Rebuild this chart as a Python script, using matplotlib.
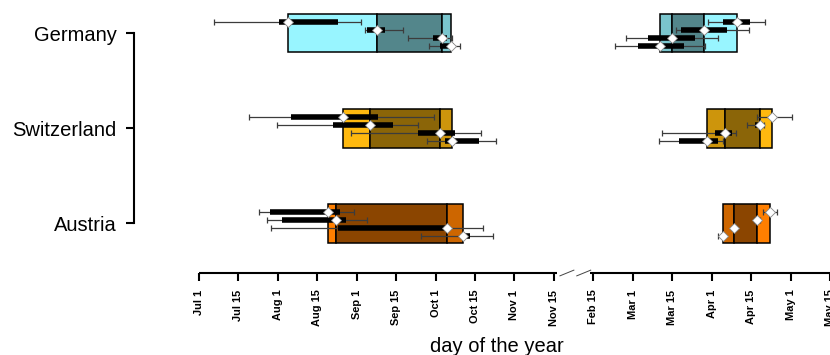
import matplotlib.pyplot as plt
import numpy as np

plt.rcParams['font.family'] = ['Liberation Sans', 'DejaVu Sans']

# x values are days on the compressed axis (0 = Jul 1, 15 days per tick,
# the gap Nov 15 -> Feb 15 is squeezed into one tick)
tick_labels = ["Jul 1", "Jul 15", "Aug 1", "Aug 15", "Sep 1", "Sep 15", "Oct 1",
               "Oct 15", "Nov 1", "Nov 15", "Feb 15", "Mar 1", "Mar 15",
               "Apr 1", "Apr 15", "May 1", "May 15"]
countries = ["Austria", "Switzerland", "Germany"]

# each row: low whisker, low quartile, median, high quartile, high whisker
germany_autumn = [[5.9, 30.3, 34.0, 52.9, 61.7],
                  [63.0, 64.0, 67.8, 70.8, 77.8],
                  [79.7, 89.2, 92.6, 94.5, 96.4],
                  [87.6, 91.6, 95.8, 97.1, 99.3]]
germany_spring = [[193.5, 199.2, 204.5, 209.6, 215.3],
                  [181.5, 183.4, 192.0, 200.7, 209.2],
                  [162.3, 170.8, 180.0, 188.8, 197.4],
                  [158.2, 166.8, 175.5, 184.3, 192.6]]
swiss_autumn = [[18.9, 34.9, 54.8, 68.1, 89.5],
                [29.6, 51.0, 64.9, 74.0, 83.2],
                [58.0, 83.5, 91.6, 97.4, 107.1],
                [86.6, 93.5, 96.4, 106.7, 112.8]]
swiss_spring = [[212.4, 217.4, 218.1, 218.6, 225.6],
                [208.3, 211.4, 213.3, 214.4, 214.9],
                [176.1, 196.4, 200.1, 202.7, 204.2],
                [175.0, 182.5, 193.2, 197.3, 199.4]]
austria_autumn = [[23.0, 27.1, 49.2, 53.6, 58.9],
                  [25.8, 31.5, 52.1, 56.1, 63.9],
                  [27.5, 52.9, 94.3, 94.5, 108.1],
                  [84.4, 100.2, 100.5, 103.1, 111.9]]
austria_spring = [[214.5, 216.3, 217.2, 217.8, 220.0],
                  [211.0, 211.4, 212.1, 212.9, 213.3],
                  [202.7, 203.1, 203.6, 204.0, 204.4],
                  [197.5, 198.4, 199.2, 199.7, 199.8]]

# light, medium, dark
germany_colors = ["#98F5FF", "#7AC5CD", "#53868B"]
swiss_colors = ["#FFB90F", "#CD950C", "#8B6508"]
austria_colors = ["#FF7F00", "#CD6600", "#8B4500"]

# which shade goes into each of the three box segments
autumn_order = [0, 2, 1]
spring_order = [1, 2, 0]

fig = plt.figure(figsize=(8.3, 3.55), dpi=100)
ax = fig.add_axes([0, 82 / 355, 1, 273 / 355])
ax.set_xlim(-75.63, 238.2)
ax.set_ylim(0.478, 3.347)

row_offsets = [0.121, 0.035, -0.05, -0.137]
box_height = 0.408


def draw_group(rows, ypos, colors, order):
    meds = sorted(r[2] for r in rows)
    # box built from the medians, split in three shaded parts
    for k in range(3):
        ax.barh(ypos, meds[k + 1] - meds[k], left=meds[k], height=box_height,
                color=colors[order[k]], edgecolor="black", linewidth=1.1, zorder=2)
    for r, dy in zip(rows, row_offsets):
        lo, q1, med, q3, hi = r
        y = ypos + dy
        ax.errorbar(med, y, xerr=[[med - lo], [hi - med]], fmt="none",
                    ecolor="#3c3c3c", elinewidth=0.9, capsize=2.0, capthick=0.9, zorder=3)
        ax.hlines(y, q1, q3, colors="black", linewidth=4.0, zorder=4)
        ax.plot(med, y, "D", ms=5.0, mfc="white", mec="#888888", mew=0.6, zorder=5)


draw_group(austria_autumn, 1, austria_colors, autumn_order)
draw_group(austria_spring, 1, austria_colors, spring_order)
draw_group(swiss_autumn, 2, swiss_colors, autumn_order)
draw_group(swiss_spring, 2, swiss_colors, spring_order)
draw_group(germany_autumn, 3, germany_colors, autumn_order)
draw_group(germany_spring, 3, germany_colors, spring_order)

# y axis as a bracket
for s in ["top", "right", "bottom"]:
    ax.spines[s].set_visible(False)
ax.spines["left"].set_position(("data", -24.6))
ax.spines["left"].set_bounds(1, 3)
ax.spines["left"].set_linewidth(1.5)
ax.set_yticks([1, 2, 3])
ax.set_yticklabels(countries)
ax.tick_params(axis="y", direction="out", length=6, width=1.5, pad=6.5, labelsize=14.5)

# broken x axis
xt = np.arange(len(tick_labels)) * 15
ax.set_xticks(xt)
ax.set_xticklabels(tick_labels, rotation=90, fontweight="bold")
ax.tick_params(axis="x", direction="out", length=5.5, width=1.5, pad=6.5, labelsize=7.9)
ybot = 0.478
ax.plot([0, 136.1], [ybot, ybot], color="black", lw=1.5, clip_on=False, solid_capstyle="butt")
ax.plot([148.6, 240], [ybot, ybot], color="black", lw=1.5, clip_on=False, solid_capstyle="butt")
ax.plot([137.3, 142.6], [ybot - 0.03, ybot + 0.03], color="#444444", lw=0.7, clip_on=False)
ax.plot([143.7, 149.0], [ybot - 0.03, ybot + 0.03], color="#444444", lw=0.7, clip_on=False)

fig.text(497 / 830, 2.5 / 355, "day of the year", ha="center", va="baseline", fontsize=14.5)

fig.savefig("out.png", dpi=100)
